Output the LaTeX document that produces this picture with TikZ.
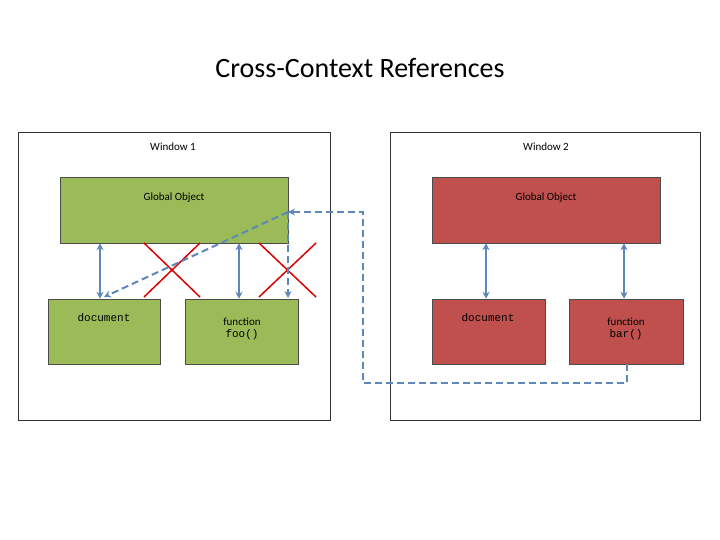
\documentclass[tikz,border=0pt]{standalone}
\usepackage{fontspec}
\setmainfont{Carlito}
\setmonofont{Liberation Mono}
\usetikzlibrary{arrows.meta}
\definecolor{gr}{HTML}{9BBB59}
\definecolor{rd}{HTML}{C0504D}
\definecolor{bl}{HTML}{5F87BA}
\begin{document}
\begin{tikzpicture}[x=1pt,y=-1pt,
  win/.style={draw=black!80,line width=0.6pt},
  obj/.style={draw=black!70,line width=0.5pt},
  dbl/.style={bl,line width=2pt,{Stealth[length=7pt,width=7pt]}-{Stealth[length=7pt,width=7pt]}},
  dsh/.style={bl,line width=2pt,dash pattern=on 7pt off 4pt},
  xx/.style={red!85!black,line width=1.5pt},
  lbl/.style={font=\fontsize{11}{13}\selectfont}]
\useasboundingbox (0,0) rectangle (720,540);
\node (title) at (360,68) {\fontsize{28}{32}\selectfont Cross-Context References};
\draw[win] (18,132) rectangle (330,420);
\draw[win] (390,132) rectangle (700,420);
\node[lbl] (w1) at (173,147) {Window 1};
\node[lbl] (w2) at (546,147) {Window 2};
\node[obj,fill=gr,minimum width=228pt,minimum height=66pt] (g1) at (174,210) {};
\node[lbl] at (174,198) {Global Object};
\node[obj,fill=rd,minimum width=228pt,minimum height=66pt] (g2) at (546,210) {};
\node[lbl] at (546,198) {Global Object};
\node[obj,fill=gr,minimum width=112pt,minimum height=65pt] (d1) at (104,331.5) {};
\node[lbl] at (104,318) {\ttfamily document};
\node[obj,fill=gr,minimum width=113pt,minimum height=65pt] (f1) at (241.5,331.5) {};
\node[lbl,align=center] at (242,329) {function\\[-1pt]\ttfamily foo()};
\node[obj,fill=rd,minimum width=113pt,minimum height=65pt] (d2) at (488.5,331.5) {};
\node[lbl] at (488,318) {\ttfamily document};
\node[obj,fill=rd,minimum width=114pt,minimum height=65pt] (f2) at (626,331.5) {};
\node[lbl,align=center] at (626,329) {function\\[-1pt]\ttfamily bar()};
\draw[dbl] (g1.south -| 100,0) -- (d1.north -| 100,0);
\draw[dbl] (g1.south -| 239,0) -- (f1.north -| 239,0);
\draw[dbl] (g2.south -| 486,0) -- (d2.north -| 486,0);
\draw[dbl] (g2.south -| 624,0) -- (f2.north -| 624,0);
\draw[xx] (144,243) -- (200,297) (200,243) -- (144,297);
\draw[xx] (259,243) -- (316,297) (316,243) -- (259,297);
\coordinate (p) at (288,212);
\draw[dsh,-{Stealth[length=7pt,width=7pt]}] (627,364) -- (627,383) -- (363,383) -- (363,212) -- (p);
\draw[dsh,-{Stealth[length=7pt,width=7pt]}] (p) -- (104,297);
\draw[dsh,-{Stealth[length=7pt,width=7pt]}] (p) -- (288,298);
\end{tikzpicture}
\end{document}
